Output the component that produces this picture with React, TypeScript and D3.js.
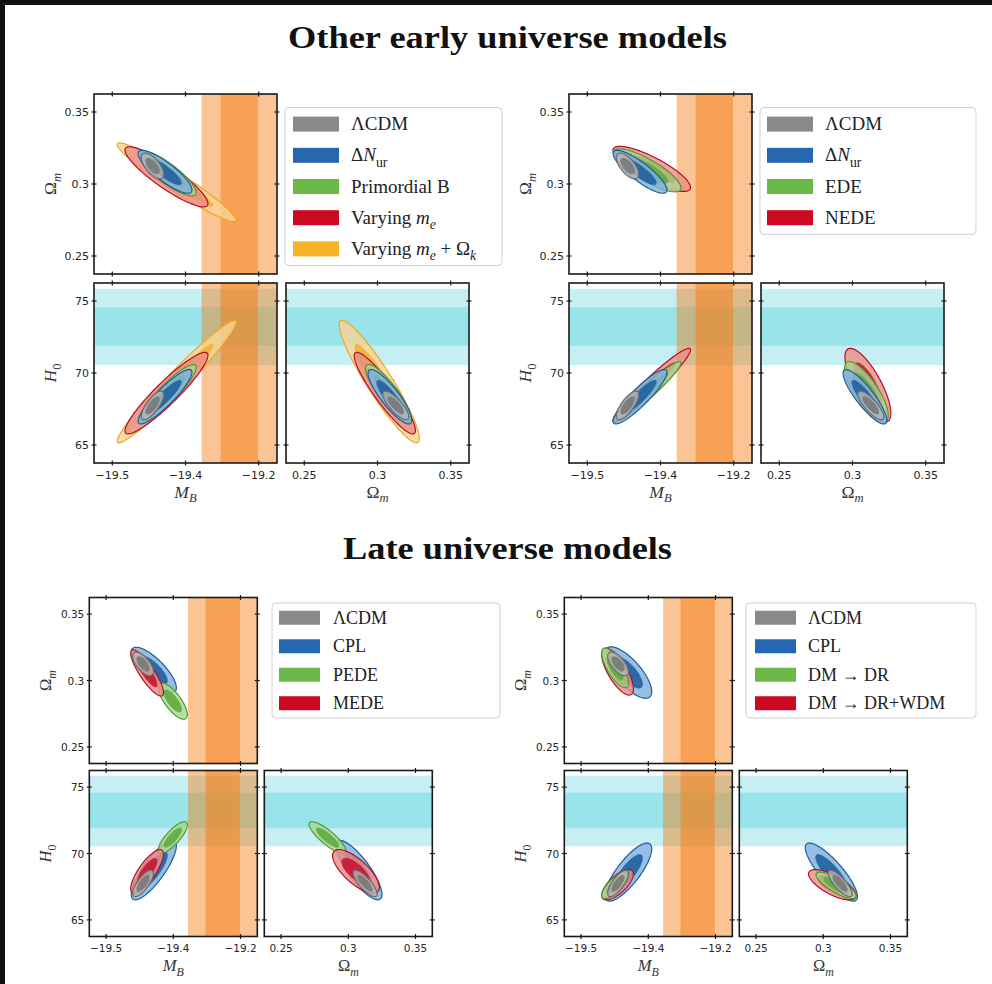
import React from "react";
import * as d3 from "d3";

// ---------- axes ----------
const mbDomain: [number, number] = [-19.525, -19.275];
const omDomain: [number, number] = [0.2375, 0.3625];
const h0Domain: [number, number] = [63.75, 76.25];
const mbTicks = [-19.5, -19.4, -19.3];
const mbTickLabels = ["\u221219.5", "\u221219.4", "\u221219.2"];
const omTicks = [0.25, 0.3, 0.35];
const omTickLabels = ["0.25", "0.3", "0.35"];
const h0Ticks = [65, 70, 75];
const h0TickLabels = ["65", "70", "75"];

// ---------- external priors (bands) ----------
const mbBandOuter = [-19.378, -19.27];
const mbBandInner = [-19.352, -19.301];
const h0BandOuter = [70.55, 75.85];
const h0BandInner = [71.9, 74.57];

// chi-square levels of the 2D contours (95%, 68%)
const chi2Levels = [6.18, 2.3];

// ---------- posteriors ----------
// row: [M_B, Ωm, H0, σ(M_B), σ(Ωm), σ(H0), ρ(M_B,Ωm), ρ(M_B,H0), ρ(Ωm,H0)]
const lcdm = [-19.445, 0.3125, 67.75, 0.0062, 0.0036, 0.4, -0.65, 0.75, -0.8];
const dNur = [-19.428, 0.3085, 68.35, 0.0148, 0.006, 0.76, -0.85, 0.9, -0.86];

const earlyNames1 = ["\u039BCDM", "\u0394*N*_{ur}", "Primordial B", "Varying *m*_{*e*}", "Varying *m*_{*e*} + \u03A9_{*k*}"];
const earlyStats1 = [
  lcdm,
  dNur,
  [-19.424, 0.3072, 68.6, 0.0155, 0.0062, 0.8, -0.85, 0.9, -0.86],
  [-19.426, 0.305, 68.6, 0.0228, 0.0084, 1.14, -0.89, 0.927, -0.915],
  [-19.412, 0.3012, 69.4, 0.0327, 0.011, 1.71, -0.96, 0.972, -0.928],
];

const earlyNames2 = ["\u039BCDM", "\u0394*N*_{ur}", "EDE", "NEDE"];
const earlyStats2 = [
  lcdm,
  dNur,
  [-19.418, 0.3095, 68.7, 0.0185, 0.006, 0.84, -0.82, 0.955, -0.78],
  [-19.412, 0.3105, 69.15, 0.0213, 0.0063, 1.03, -0.82, 0.958, -0.76],
];

const lateNames1 = ["\u039BCDM", "CPL", "PEDE", "MEDE"];
const lateStats1 = [
  lcdm,
  [-19.429, 0.3079, 68.75, 0.0135, 0.0069, 0.9, -0.78, 0.82, -0.82],
  [-19.4008, 0.2845, 71.2, 0.0087, 0.0055, 0.48, -0.75, 0.8, -0.84],
  [-19.439, 0.3057, 68.65, 0.0098, 0.007, 0.66, -0.85, 0.79, -0.73],
];

const lateNames2 = ["\u039BCDM", "CPL", "DM \u2192 DR", "DM \u2192 DR+WDM"];
const lateStats2 = [
  lcdm,
  [-19.4297, 0.306, 68.6, 0.014, 0.0078, 0.88, -0.74, 0.8, -0.84],
  [-19.4495, 0.3095, 67.6, 0.008, 0.006, 0.4, -0.75, 0.75, -0.8],
  [-19.4458, 0.3067, 67.65, 0.0095, 0.0071, 0.46, -0.73, 0.7, -0.71],
];

const titles = ["Other early universe models", "Late universe models"];
const axisNames = ["*M*_{*B*}", "\u03A9_{*m*}", "*H*_{0}"];

// ---------- styles ----------
const palette: Record<string, { light: string; dark: string; edge: string; patch: string }> = {
  grey: { light: "#b3b3b3", dark: "#777777", edge: "#6a6a6a", patch: "#898989" },
  blue: { light: "#80b1de", dark: "#1d5e9e", edge: "#1f5c9c", patch: "#2668b0" },
  green: { light: "#aad78f", dark: "#5cab3c", edge: "#4f9a31", patch: "#6cb94b" },
  red: { light: "#ec8f84", dark: "#c8102e", edge: "#b50d29", patch: "#cb0a22" },
  yellow: { light: "#f9d495", dark: "#f3b031", edge: "#eca720", patch: "#f5b227" },
};

const SERIF = "'Liberation Serif', 'DejaVu Serif', serif";
const SANS = "'DejaVu Sans', 'Liberation Sans', sans-serif";

type Legend = { x: number; y: number; w: number; rowH: number; pad: number; patchDx: number; patchW: number; patchH: number; textDx: number; font: number };
type Group = {
  names: string[]; stats: number[][]; colors: string[]; order: number[];
  x0: number; y0: number; w: number; h: number; gap: number;
  legend: Legend; tickFont: number; labelFont: number; yLabelDx: number; xLabelDy: number;
};

const groups: Group[] = [
  {
    names: earlyNames1, stats: earlyStats1, colors: ["grey", "blue", "green", "red", "yellow"], order: [4, 3, 2, 1, 0],
    x0: 94, y0: 94, w: 183, h: 180, gap: 9,
    legend: { x: 285, y: 107.5, w: 217, rowH: 31.2, pad: 1, patchDx: 8, patchW: 46, patchH: 15, textDx: 66, font: 19 },
    tickFont: 11, labelFont: 17.5, yLabelDx: 44, xLabelDy: 34.5,
  },
  {
    names: earlyNames2, stats: earlyStats2, colors: ["grey", "blue", "green", "red"], order: [3, 2, 1, 0],
    x0: 569, y0: 94, w: 183, h: 180, gap: 9,
    legend: { x: 760, y: 107.5, w: 216, rowH: 31.2, pad: 1, patchDx: 7, patchW: 46, patchH: 15, textDx: 65, font: 19 },
    tickFont: 11, labelFont: 17.5, yLabelDx: 44, xLabelDy: 34.5,
  },
  {
    names: lateNames1, stats: lateStats1, colors: ["grey", "blue", "green", "red"], order: [1, 2, 3, 0],
    x0: 89.3, y0: 597.5, w: 168, h: 166, gap: 7,
    legend: { x: 272, y: 603, w: 228, rowH: 28.5, pad: 0.5, patchDx: 7, patchW: 41, patchH: 14, textDx: 61, font: 18 },
    tickFont: 10.5, labelFont: 16.5, yLabelDx: 44, xLabelDy: 34.5,
  },
  {
    names: lateNames2, stats: lateStats2, colors: ["grey", "blue", "green", "red"], order: [1, 3, 2, 0],
    x0: 564.3, y0: 597.5, w: 168, h: 166, gap: 7,
    legend: { x: 746, y: 603, w: 230, rowH: 28.5, pad: 0.5, patchDx: 9, patchW: 41, patchH: 14, textDx: 62, font: 18 },
    tickFont: 10.5, labelFont: 16.5, yLabelDx: 44, xLabelDy: 34.5,
  },
];

// ---------- helpers ----------
type Seg = { t: string; it: boolean; sub: boolean };
function parseLabel(s: string): Seg[] {
  const out: Seg[] = [];
  let it = false, sub = false, buf = "";
  const flush = () => { if (buf) { out.push({ t: buf, it, sub }); buf = ""; } };
  for (let i = 0; i < s.length; i++) {
    const c = s[i];
    if (c === "*") { flush(); it = !it; continue; }
    if (c === "_" && s[i + 1] === "{") { flush(); sub = true; i++; continue; }
    if (c === "}" && sub) { flush(); sub = false; continue; }
    buf += c;
  }
  flush();
  return out;
}

function RichText({ label, x, y, size, anchor = "start", transform, fill = "#222" }: any) {
  const segs = parseLabel(label);
  let down = false;
  const shift = size * 0.28;
  return (
    <text x={x} y={y} fontFamily={SERIF} fontSize={size} textAnchor={anchor} transform={transform} fill={fill}>
      {segs.map((s, i) => {
        let dy = 0;
        if (s.sub && !down) { dy = shift; down = true; }
        else if (!s.sub && down) { dy = -shift; down = false; }
        return (
          <tspan key={i} dy={dy} fontStyle={s.it ? "italic" : "normal"} fontSize={s.sub ? size * 0.72 : size}>
            {s.t}
          </tspan>
        );
      })}
    </text>
  );
}

const rhoIndex = (a: number, b: number) => (a === 0 && b === 1 ? 6 : a === 0 && b === 2 ? 7 : 8);

function ellipse(mx: number, my: number, sx: number, sy: number, rho: number, r: number): [number, number][] {
  const k = Math.sqrt(1 - rho * rho);
  return d3.range(0, 2 * Math.PI, Math.PI / 80).map((t) => [
    mx + r * sx * Math.cos(t),
    my + r * sy * (rho * Math.cos(t) + k * Math.sin(t)),
  ] as [number, number]);
}

const domains = [mbDomain, omDomain, h0Domain];
const tickSets = [mbTicks, omTicks, h0Ticks];
const tickLabelSets = [mbTickLabels, omTickLabels, h0TickLabels];

function Panel({ g, px, py, xKey, yKey, showX, showY, id }: any) {
  const { w, h } = g;
  const xs = d3.scaleLinear().domain(domains[xKey]).range([px, px + w]);
  const ys = d3.scaleLinear().domain(domains[yKey]).range([py + h, py]);
  const line = d3.line<[number, number]>().x((d) => xs(d[0])).y((d) => ys(d[1])).curve(d3.curveLinearClosed);
  const ri = rhoIndex(xKey, yKey);
  const tl = 2.5;
  return (
    <g>
      <clipPath id={id}><rect x={px} y={py} width={w} height={h} /></clipPath>
      <rect x={px} y={py} width={w} height={h} fill="#fff" />
      <g clipPath={`url(#${id})`}>
        {yKey === 2 && [h0BandOuter, h0BandInner].map((b, i) => (
          <rect key={"c" + i} x={px} width={w} y={ys(b[1])} height={ys(b[0]) - ys(b[1])} fill="#17becf" fillOpacity={0.25} />
        ))}
        {xKey === 0 && [mbBandOuter, mbBandInner].map((b, i) => (
          <rect key={"o" + i} y={py} height={h} x={xs(b[0])} width={xs(b[1]) - xs(b[0])} fill="#f57c12" fillOpacity={i === 0 ? 0.45 : 0.5} />
        ))}
        {g.order.map((m: number) => {
          const s = g.stats[m];
          const c = palette[g.colors[m]];
          const outer = ellipse(s[xKey], s[yKey], s[3 + xKey], s[3 + yKey], s[ri], Math.sqrt(chi2Levels[0]));
          const inner = ellipse(s[xKey], s[yKey], s[3 + xKey], s[3 + yKey], s[ri], Math.sqrt(chi2Levels[1]));
          return (
            <g key={m}>
              <path d={line(outer) || ""} fill={c.light} fillOpacity={0.82} stroke={c.edge} strokeWidth={1.2} />
              <path d={line(inner) || ""} fill={c.dark} fillOpacity={0.88} stroke={c.edge} strokeWidth={0.5} strokeOpacity={0.6} />
            </g>
          );
        })}
      </g>
      <rect x={px} y={py} width={w} height={h} fill="none" stroke="#1a1a1a" strokeWidth={1.6} />
      {tickSets[xKey].map((t) => (
        <g key={"xt" + t} stroke="#1a1a1a" strokeWidth={1.2}>
          <line x1={xs(t)} x2={xs(t)} y1={py - tl} y2={py + tl} />
          <line x1={xs(t)} x2={xs(t)} y1={py + h - tl} y2={py + h + tl} />
        </g>
      ))}
      {tickSets[yKey].map((t) => (
        <g key={"yt" + t} stroke="#1a1a1a" strokeWidth={1.2}>
          <line y1={ys(t)} y2={ys(t)} x1={px - tl} x2={px + tl} />
          <line y1={ys(t)} y2={ys(t)} x1={px + w - tl} x2={px + w + tl} />
        </g>
      ))}
      {showX && tickSets[xKey].map((t, i) => (
        <text key={"xl" + t} x={xs(t)} y={py + h + 15.5} textAnchor="middle" fontFamily={SANS} fontSize={g.tickFont} fill="#262626">
          {tickLabelSets[xKey][i]}
        </text>
      ))}
      {showY && tickSets[yKey].map((t, i) => (
        <text key={"yl" + t} x={px - 5} y={ys(t) + 4} textAnchor="end" fontFamily={SANS} fontSize={g.tickFont} fill="#262626">
          {tickLabelSets[yKey][i]}
        </text>
      ))}
      {showX && (
        <RichText label={axisNames[xKey]} x={px + w / 2} y={py + h + g.xLabelDy} size={g.labelFont} anchor="middle" fill="#333" />
      )}
      {showY && (
        <RichText label={axisNames[yKey]} x={0} y={0} size={g.labelFont} anchor="middle" fill="#333"
          transform={`translate(${px - g.yLabelDx + 6},${py + h / 2}) rotate(-90)`} />
      )}
    </g>
  );
}

function LegendBox({ g }: { g: Group }) {
  const L = g.legend;
  const hBox = g.names.length * L.rowH + 2 * L.pad;
  return (
    <g>
      <rect x={L.x} y={L.y} width={L.w} height={hBox} rx={4} fill="#fff" fillOpacity={0.85} stroke="#d0d0d0" strokeWidth={1} />
      {g.names.map((n, i) => {
        const cy = L.y + L.pad + L.rowH * (i + 0.5);
        return (
          <g key={i}>
            <rect x={L.x + L.patchDx} y={cy - L.patchH / 2} width={L.patchW} height={L.patchH} fill={palette[g.colors[i]].patch} />
            <RichText label={n} x={L.x + L.textDx} y={cy + L.font * 0.32} size={L.font} fill="#222" />
          </g>
        );
      })}
    </g>
  );
}

function GroupView({ g, gi }: { g: Group; gi: number }) {
  const bx = g.y0 + g.h + g.gap;
  const cx = g.x0 + g.w + g.gap;
  return (
    <g>
      <Panel g={g} px={g.x0} py={g.y0} xKey={0} yKey={1} showX={false} showY={true} id={`c${gi}a`} />
      <Panel g={g} px={g.x0} py={bx} xKey={0} yKey={2} showX={true} showY={true} id={`c${gi}b`} />
      <Panel g={g} px={cx} py={bx} xKey={1} yKey={2} showX={true} showY={false} id={`c${gi}c`} />
      <LegendBox g={g} />
    </g>
  );
}

export default function App() {
  return (
    <svg width={992} height={984} style={{ position: "absolute", left: 0, top: 0 }} xmlns="http://www.w3.org/2000/svg">
      <rect x={0} y={0} width={992} height={984} fill="#111" />
      <rect x={5} y={5} width={987} height={979} fill="#fff" />
      <text x={507.5} y={47.5} textAnchor="middle" fontFamily={SERIF} fontWeight="bold" fontSize={32} textLength={439} lengthAdjust="spacingAndGlyphs" fill="#111">
        {titles[0]}
      </text>
      <text x={507.5} y={558.5} textAnchor="middle" fontFamily={SERIF} fontWeight="bold" fontSize={32} textLength={329} lengthAdjust="spacingAndGlyphs" fill="#111">
        {titles[1]}
      </text>
      {groups.map((g, i) => <GroupView key={i} g={g} gi={i} />)}
    </svg>
  );
}
